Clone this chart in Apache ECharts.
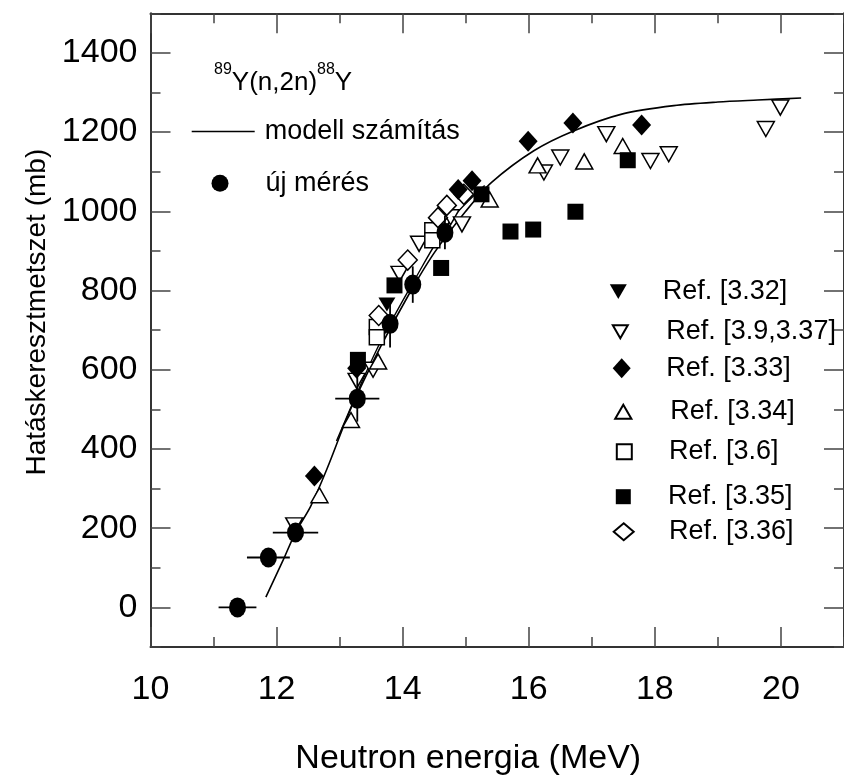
<!DOCTYPE html>
<html><head><meta charset="utf-8">
<script src="https://cdn.jsdelivr.net/npm/echarts@6/dist/echarts.min.js"></script>
<style>html,body{margin:0;padding:0;background:#fff}#c{width:844px;height:781px}</style>
</head><body><div id="c"></div>
<script>
// ---- tick labels ----
const xTickLabels = [10, 12, 14, 16, 18, 20];
const yTickLabels = [0, 200, 400, 600, 800, 1000, 1200, 1400];

// ---- model calculation (modell számítás) ----
const modelX = [11.83, 12.1, 12.3, 12.54, 12.8, 13.17, 13.64, 14.08, 14.5, 15.0, 15.41, 16.08, 16.71, 17.49, 18.3, 19.0, 19.63, 20.32];
const modelY = [26, 118, 189, 255, 350, 499, 655, 785, 895, 1000, 1073, 1153, 1203, 1246, 1267, 1276, 1281, 1286];
// second close curve segment
const model2X = [12.95, 13.6, 14.2, 14.75, 15.3];
const model2Y = [420, 655, 830, 975, 1065];

// ---- new measurement (új mérés) ----
const newX = [11.38, 11.87, 12.30, 13.28, 13.80, 14.16, 14.67];
const newY = [0, 126, 189, 527, 716, 815, 946];
const newXErr = [0.30, 0.34, 0.36, 0.35, 0, 0, 0];
const newYErr = [10, 12, 14, 58, 60, 46, 42];

// ---- literature data ----
const ref332X = [13.75];
const ref332Y = [765];
const ref3937X = [12.28, 13.27, 13.53, 13.95, 14.26, 14.76, 14.94, 16.24, 16.5, 17.23, 17.93, 18.22, 19.76, 19.99];
const ref3937Y = [207, 572, 600, 842, 918, 985, 967, 1098, 1136, 1195, 1127, 1144, 1208, 1262];
const ref333X = [12.60, 13.27, 14.88, 15.10, 15.99, 16.70, 17.79];
const ref333Y = [332, 604, 1055, 1077, 1177, 1223, 1218];
const ref334X = [12.68, 13.18, 13.61, 15.38, 16.14, 16.88, 17.49];
const ref334Y = [283, 473, 621, 1030, 1116, 1126, 1165];
const ref36X = [13.59, 13.59, 14.47, 14.47];
const ref36Y = [708, 682, 952, 927];
const ref335X = [13.29, 13.87, 14.61, 15.25, 15.71, 16.07, 16.74, 17.57];
const ref335Y = [625, 813, 857, 1043, 949, 954, 999, 1129];
const ref336X = [13.62, 14.08, 14.56, 14.70, 14.97];
const ref336Y = [737, 877, 984, 1015, 1043];

const FONT = "'Liberation Sans', Arial, sans-serif";
const zip = (a, b) => a.map((v, i) => [v, b[i]]);
const DOWN = 'path://M0,0L20,0L10,17.3Z';
const UP = 'path://M10,0L20,17.3L0,17.3Z';
const openStyle = { color: '#fff', borderColor: '#000', borderWidth: 1.5, opacity: 1 };
const fillStyle = { color: '#000', borderColor: '#000', borderWidth: 0, opacity: 1 };

function scatter(name, xs, ys, symbol, size, style) {
  return { name, type: 'scatter', xAxisIndex: 0, yAxisIndex: 0, data: zip(xs, ys),
    symbol, symbolSize: size, itemStyle: style, emphasis: { disabled: true }, z: 3 };
}

const axisLineStyle = { color: '#333', width: 2 };
const tickStyle = { color: '#444', width: 1.5 };

function xAx(pos, major, withLabel) {
  const a = { type: 'value', position: pos, min: 10, max: 21, interval: 1,
    axisLine: { show: !major, onZero: false, lineStyle: axisLineStyle },
    axisTick: { inside: true, length: major ? 20 : 10, lineStyle: tickStyle },
    axisLabel: { show: false }, splitLine: { show: false } };
  if (major) a.axisTick.customValues = xTickLabels;
  if (withLabel) {
    a.axisLabel = { show: true, customValues: xTickLabels, formatter: v => String(v), fontSize: 34, fontFamily: FONT, color: '#000', margin: 26 };
    a.name = 'Neutron energia (MeV)';
    a.nameLocation = 'middle';
    a.nameGap = 95;
    a.nameTextStyle = { fontSize: 34, fontFamily: FONT, color: '#000', padding: [0, 58, 0, 0] };
  }
  return a;
}
function yAx(pos, major, withLabel) {
  const a = { type: 'value', position: pos, min: -100, max: 1500, interval: 100,
    axisLine: { show: !major, onZero: false, lineStyle: axisLineStyle },
    axisTick: { inside: true, length: major ? 20 : 10, lineStyle: tickStyle },
    axisLabel: { show: false }, splitLine: { show: false } };
  if (major) a.axisTick.customValues = yTickLabels;
  if (withLabel) {
    a.axisLabel = { show: true, customValues: yTickLabels, formatter: v => String(v), fontSize: 34, fontFamily: FONT, color: '#000', margin: 13 };
    a.name = 'Hatáskeresztmetszet (mb)';
    a.nameLocation = 'middle';
    a.nameGap = 98;
    a.nameTextStyle = { fontSize: 28, fontFamily: FONT, color: '#000', padding: [0, 0, 0, 36] };
  }
  return a;
}

function lg(name, left, cy, w, h, padLeft, extra) {
  const textH = 27;
  const hh = Math.max(h, textH);
  return Object.assign({ data: [name], left, top: cy - hh / 2, itemWidth: w, itemHeight: h, padding: 0,
    selectedMode: false, textStyle: { fontSize: 27, fontFamily: FONT, color: '#000', padding: [0, 0, 0, padLeft] } }, extra || {});
}

const chart = echarts.init(document.getElementById('c'), null, { renderer: 'canvas' });
chart.setOption({
  animation: false,
  backgroundColor: '#fff',
  title: {
    text: '{s|89}{m|Y(n,2n)}{s|88}{m|Y}', left: 214, top: 62, padding: 0,
    textStyle: { fontWeight: 'normal', rich: {
      m: { fontSize: 26, fontFamily: FONT, fontWeight: 'normal', color: '#000', lineHeight: 34, verticalAlign: 'bottom' },
      s: { fontSize: 16, fontFamily: FONT, fontWeight: 'normal', color: '#000', lineHeight: 16, verticalAlign: 'top' } } }
  },
  grid: { left: 150.5, top: 13.3, width: 704, height: 633.7, containLabel: false },
  xAxis: [xAx('bottom', false, true), xAx('bottom', true, false), xAx('top', false, false), xAx('top', true, false)],
  yAxis: [yAx('left', false, true), yAx('left', true, false), yAx('right', false, false), yAx('right', true, false)],
  legend: [
    { data: [{ name: 'modell számítás', icon: 'rect' }], left: 191.7, top: 136 - 18, itemWidth: 63, itemHeight: 1.6, padding: 0, selectedMode: false,
      itemStyle: { color: '#000', borderWidth: 0 },
      textStyle: { fontSize: 27, fontFamily: FONT, color: '#000', padding: [9, 0, 0, 5] } },
    lg('új mérés', 211.5, 183.3, 17, 20, 32),
    lg('Ref. [3.32]', 609.8, 291.7, 17, 16, 31),
    lg('Ref. [3.9,3.37]', 611.8, 331.7, 15, 15, 33.5),
    lg('Ref. [3.33]', 612.7, 368.3, 18, 20, 30.6),
    lg('Ref. [3.34]', 614.2, 411.7, 17, 14, 33.5),
    lg('Ref. [3.6]', 615.8, 451.7, 15, 15, 32.2),
    lg('Ref. [3.35]', 615.8, 496.7, 15, 15, 32.2),
    lg('Ref. [3.36]', 612.7, 531.7, 20, 17, 30.3)
  ],
  series: [
    { name: 'modell számítás', type: 'line', data: zip(modelX, modelY), smooth: 0.3, symbol: 'none',
      lineStyle: { color: '#000', width: 1.6 }, itemStyle: { color: '#000' }, z: 2 },
    { name: 'modell2', type: 'line', data: zip(model2X, model2Y), smooth: 0.3, symbol: 'none',
      lineStyle: { color: '#000', width: 1.4 }, z: 2 },
    scatter('Ref. [3.9,3.37]', ref3937X, ref3937Y, DOWN, [17, 15], openStyle),
    scatter('Ref. [3.34]', ref334X, ref334Y, UP, [17, 15], openStyle),
    scatter('Ref. [3.6]', ref36X, ref36Y, 'rect', [15, 15], openStyle),
    scatter('Ref. [3.36]', ref336X, ref336Y, 'diamond', [19, 20], openStyle),
    scatter('Ref. [3.32]', ref332X, ref332Y, DOWN, [17, 14], fillStyle),
    scatter('Ref. [3.33]', ref333X, ref333Y, 'diamond', [19, 21], fillStyle),
    scatter('Ref. [3.35]', ref335X, ref335Y, 'rect', [16, 16], fillStyle),
    { name: 'errors', type: 'custom', xAxisIndex: 0, yAxisIndex: 0, z: 4,
      data: newX.map((x, i) => [x, newY[i], newXErr[i], newYErr[i]]),
      encode: { x: 0, y: 1 },
      renderItem: function (params, api) {
        const x = api.value(0), y = api.value(1), ex = api.value(2), ey = api.value(3);
        const st = { stroke: '#000', lineWidth: 1.8 };
        const ch = [];
        if (ex > 0) { const a = api.coord([x - ex, y]), b = api.coord([x + ex, y]);
          ch.push({ type: 'line', shape: { x1: a[0], y1: a[1], x2: b[0], y2: b[1] }, style: st }); }
        if (ey > 0) { const a = api.coord([x, y - ey]), b = api.coord([x, y + ey]);
          ch.push({ type: 'line', shape: { x1: a[0], y1: a[1], x2: b[0], y2: b[1] }, style: st }); }
        return { type: 'group', children: ch };
      } },
    scatter('új mérés', newX, newY, 'circle', [17, 20], fillStyle)
  ]
});
</script>
</body></html>
